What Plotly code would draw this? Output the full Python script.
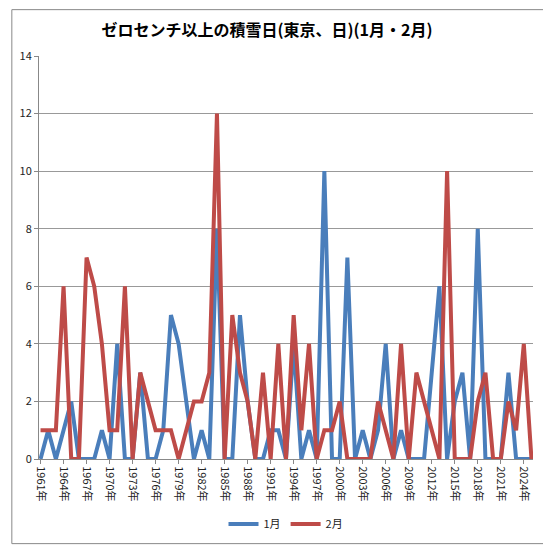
import plotly.graph_objects as go

# ゼロセンチ以上の積雪日 (東京) 1月・2月
years = [str(y) + "年" for y in range(1961, 2026)]
jan = [0, 1, 0, 1, 2, 0, 0, 0, 1, 0, 4, 0, 0, 3, 0, 0, 1, 5, 4, 2,
       0, 1, 0, 8, 0, 0, 5, 2, 0, 0, 1, 1, 0, 4, 0, 1, 0, 10, 0, 0,
       7, 0, 1, 0, 1, 4, 0, 1, 0, 0, 0, 3, 6, 0, 2, 3, 0, 8, 0, 0,
       0, 3, 0, 0, 0]
feb = [1, 1, 1, 6, 0, 0, 7, 6, 4, 1, 1, 6, 0, 3, 2, 1, 1, 1, 0, 1,
       2, 2, 3, 12, 0, 5, 3, 2, 0, 3, 0, 4, 0, 5, 1, 4, 0, 1, 1, 2,
       0, 0, 0, 0, 2, 1, 0, 4, 0, 3, 2, 1, 0, 10, 0, 0, 0, 2, 3, 0,
       0, 2, 1, 4, 0]

fig = go.Figure()
fig.add_trace(go.Scatter(x=years, y=jan, name="1月", mode="lines",
                         line=dict(color="#4a7ebb", width=4)))
fig.add_trace(go.Scatter(x=years, y=feb, name="2月", mode="lines",
                         line=dict(color="#be4b48", width=4)))

fig.update_layout(
    width=551, height=551,
    paper_bgcolor="white", plot_bgcolor="white",
    font=dict(family="Noto Sans CJK JP", size=11, color="#222"),
    title=dict(text="<b>ゼロセンチ以上の積雪日(東京、日)(1月・2月)</b>",
               x=0.47, xanchor="center", y=0.97, font=dict(size=16, color="black")),
    margin=dict(l=31, r=26, t=48, b=100),
    showlegend=True,
    legend=dict(orientation="h", x=0.5, xanchor="center", y=-0.125,
                font=dict(size=11)),
    xaxis=dict(type="category", tickangle=90, automargin=False,
               tickvals=years[::3], ticktext=years[::3],
               showgrid=False, showline=True, linecolor="#888",
               ticks="outside", ticklen=4, tickcolor="#888",
               minor=dict(ticks="outside", ticklen=3, tickcolor="#888", showgrid=False),
               range=[-0.2, len(years) - 0.8], tickfont=dict(size=11)),
    yaxis=dict(range=[0, 14], dtick=2, showgrid=True, gridcolor="#999",
               automargin=False,
               showline=True, linecolor="#888", ticks="outside",
               ticklen=4, tickcolor="#888", zeroline=False, tickfont=dict(size=11)),
)
fig.add_shape(type="rect", xref="paper", yref="paper", x0=-0.055, y0=-0.21,
              x1=1.025, y1=1.115, line=dict(color="#888", width=1))
fig.write_html("out.html")
